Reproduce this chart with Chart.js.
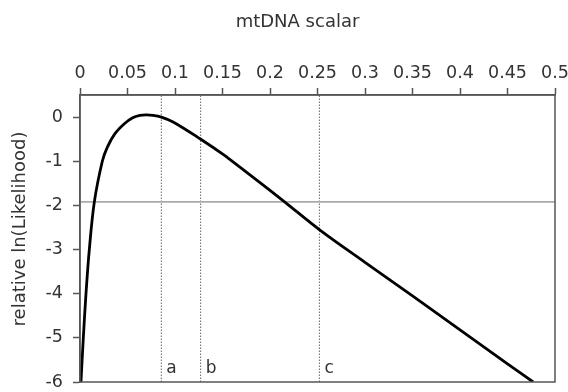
<!DOCTYPE html>
<html>
<head>
<meta charset="utf-8">
<script src="https://cdn.jsdelivr.net/npm/chart.js@4.4.1/dist/chart.umd.min.js"></script>
<style>
  html, body { margin: 0; padding: 0; background: #fff; }
  #wrap { width: 568px; height: 392px; }
</style>
</head>
<body>
<div id="wrap"><canvas id="lkChart" width="568" height="392"></canvas></div>
<script>
"use strict";

// Likelihood profile
const scalarX = [0.001, 0.0035, 0.0063, 0.0098, 0.0151, 0.0235, 0.0288, 0.0368, 0.0467, 0.055, 0.063, 0.07, 0.077, 0.0856, 0.098, 0.1263, 0.151, 0.168, 0.2, 0.216, 0.2526, 0.3, 0.35, 0.4, 0.45, 0.477];
const lnLik   = [-6, -5, -4, -3, -1.92, -1.0, -0.68, -0.375, -0.15, -0.02, 0.04, 0.05, 0.04, 0.0, -0.11, -0.49, -0.85, -1.13, -1.66, -1.93, -2.56, -3.29, -4.05, -4.82, -5.59, -6];

// Reference lines
const cutoff = -1.92;
const markX = [0.0856, 0.127, 0.252];
const markLabels = ["a", "b", "c"];

// Axis ticks
const xTicks = [0, 0.05, 0.1, 0.15, 0.2, 0.25, 0.3, 0.35, 0.4, 0.45, 0.5];
const yTicks = [-6, -5, -4, -3, -2, -1, 0];
const yTitle = "relative ln(Likelihood)";

const FONT = "'DejaVu Sans', sans-serif";
const AXIS = "#555";

const datasets = [
  {
    data: scalarX.map((x, i) => ({ x: x, y: lnLik[i] })),
    borderColor: "#000",
    borderWidth: 2.8,
    pointRadius: 0,
    tension: 0.35
  },
  {
    data: [{ x: 0, y: cutoff }, { x: 0.5, y: cutoff }],
    borderColor: "#aaa",
    borderWidth: 1.6,
    pointRadius: 0
  }
];
markX.forEach(v => {
  datasets.push({
    data: [{ x: v, y: -6 }, { x: v, y: 0.5 }],
    borderColor: "#666",
    borderWidth: 1,
    borderDash: [1.5, 1.5],
    pointRadius: 0
  });
});

// frame around plot, a/b/c letters, y axis title
const framePlugin = {
  id: "frame",
  afterDatasetsDraw(chart) {
    const { ctx, chartArea: a, scales } = chart;
    ctx.save();
    ctx.strokeStyle = AXIS;
    ctx.lineWidth = 1.5;
    ctx.strokeRect(a.left, a.top, a.right - a.left, a.bottom - a.top);
    ctx.fillStyle = "#333";
    ctx.font = "17px " + FONT;
    ctx.textBaseline = "alphabetic";
    markX.forEach((v, i) => {
      ctx.fillText(markLabels[i], scales.x.getPixelForValue(v) + 5, a.bottom - 9);
    });
    // y title, sits a bit above the plot centre
    ctx.font = "18px " + FONT;
    ctx.textAlign = "center";
    ctx.textBaseline = "middle";
    ctx.translate(20, 229);
    ctx.rotate(-Math.PI / 2);
    ctx.fillText(yTitle, 0, 0);
    ctx.restore();
  }
};

new Chart(document.getElementById("lkChart").getContext("2d"), {
  type: "line",
  data: { datasets: datasets },
  options: {
    responsive: false,
    animation: false,
    layout: { padding: { left: 27, right: 0, top: 0, bottom: 0 } },
    plugins: {
      legend: { display: false },
      tooltip: { enabled: false },
      title: {
        display: true,
        text: "mtDNA scalar",
        color: "#333",
        font: { family: FONT, size: 18, weight: "normal" },
        padding: { top: 12, bottom: 3 }
      }
    },
    scales: {
      x: {
        type: "linear",
        position: "top",
        min: 0,
        max: 0.5,
        afterBuildTicks: s => { s.ticks = xTicks.map(v => ({ value: v })); },
        afterFit: s => {
          s.height = 95 - 36.6;
          s.paddingLeft = 0;
          s.paddingRight = 13;
        },
        grid: { drawOnChartArea: false, tickLength: 7, color: AXIS, tickWidth: 1.5 },
        border: { color: AXIS, width: 1.5 },
        ticks: {
          color: "#333",
          padding: 4,
          maxRotation: 0,
          font: { family: FONT, size: 17.5 },
          callback: v => String(Number(v.toFixed(2)))
        }
      },
      y: {
        type: "linear",
        min: -6,
        max: 0.5,
        afterBuildTicks: s => { s.ticks = yTicks.map(v => ({ value: v })); },
        afterFit: s => {
          s.width = 80 - 27;
          s.paddingTop = 0;
          s.paddingBottom = 10;
        },
        grid: { drawOnChartArea: false, tickLength: 7, color: AXIS, tickWidth: 1.5 },
        border: { color: AXIS, width: 1.5 },
        ticks: {
          color: "#333",
          padding: 10,
          font: { family: FONT, size: 17.5 },
          callback: v => String(v)
        }
      }
    }
  },
  plugins: [framePlugin]
});
</script>
</body>
</html>
